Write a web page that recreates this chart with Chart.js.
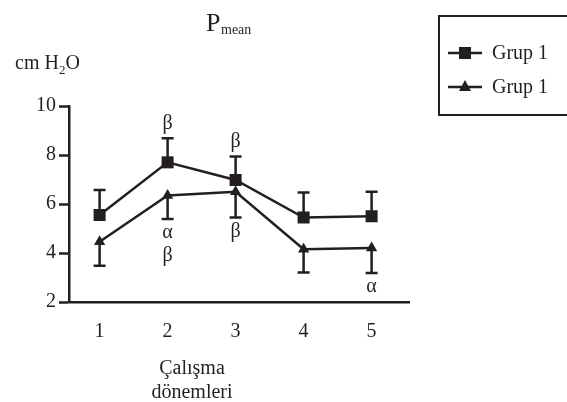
<!DOCTYPE html>
<html>
<head>
<meta charset="utf-8">
<script src="https://cdn.jsdelivr.net/npm/chart.js@4"></script>
<style>
  html, body { margin: 0; padding: 0; background: #fff; }
  #wrap { width: 567px; height: 402px; position: relative; }
</style>
</head>
<body>
<div id="wrap"><canvas id="chart" width="567" height="402"></canvas></div>
<script>
// ================= DATA =================
const periods = [1, 2, 3, 4, 5];
const yTicks = [2, 4, 6, 8, 10];
const seriesNames = ["Grup 1", "Grup 1"];

// squares, error bar drawn upward
const squareValues = [5.55, 7.7, 6.98, 5.45, 5.5];
const squareErr = [1.02, 0.98, 0.96, 1.02, 1.0];
const squareNotes = [[], ["β"], ["β"], [], []];

// triangles, error bar drawn downward
const triValues = [4.46, 6.35, 6.5, 4.15, 4.2];
const triErr = [0.98, 0.96, 1.05, 0.95, 1.02];
const triNotes = [[], ["α", "β"], ["β"], [], ["α"]];

const INK = "#231f20";
const FONT = "'Liberation Serif', 'Times New Roman', serif";

// ================= ERROR BARS + NOTES =================
const errorBarPlugin = {
    id: "errorBars",
    beforeDatasetsDraw(chart) {
        const ctx = chart.ctx;
        const x = chart.scales.x;
        const y = chart.scales.y;
        ctx.save();
        ctx.strokeStyle = INK;
        ctx.lineWidth = 2.5;
        const cap = 6;

        const drawBars = (values, errs, dir) => {
            values.forEach((v, i) => {
                const px = x.getPixelForValue(periods[i]);
                const py0 = y.getPixelForValue(v);
                const py1 = y.getPixelForValue(v + dir * errs[i]);
                ctx.beginPath();
                ctx.moveTo(px, py0);
                ctx.lineTo(px, py1);
                ctx.moveTo(px - cap, py1);
                ctx.lineTo(px + cap, py1);
                ctx.stroke();
            });
        };
        drawBars(squareValues, squareErr, 1);
        drawBars(triValues, triErr, -1);
        ctx.restore();
    },
    afterDatasetsDraw(chart) {
        const ctx = chart.ctx;
        const x = chart.scales.x;
        const y = chart.scales.y;
        ctx.save();
        ctx.fillStyle = INK;
        ctx.font = "20px " + FONT;
        ctx.textAlign = "center";
        ctx.textBaseline = "middle";

        squareNotes.forEach((notes, i) => {
            const px = x.getPixelForValue(periods[i]);
            const top = y.getPixelForValue(squareValues[i] + squareErr[i]);
            notes.forEach((t, k) => {
                ctx.fillText(t, px, top - 15 - k * 22);
            });
        });
        triNotes.forEach((notes, i) => {
            const px = x.getPixelForValue(periods[i]);
            const bottom = y.getPixelForValue(triValues[i] - triErr[i]);
            notes.forEach((t, k) => {
                ctx.fillText(t, px, bottom + 14 + k * 23);
            });
        });
        ctx.restore();
    },
    afterDraw(chart) {
        const ctx = chart.ctx;
        const area = chart.chartArea;
        ctx.save();
        ctx.fillStyle = INK;
        ctx.textBaseline = "alphabetic";

        // title P_mean
        ctx.textAlign = "left";
        ctx.font = "26px " + FONT;
        ctx.fillText("P", 206, 31);
        ctx.font = "14px " + FONT;
        ctx.fillText("mean", 221, 34);

        // unit cm H2O
        ctx.font = "20px " + FONT;
        ctx.fillText("cm H", 15, 69);
        let w = ctx.measureText("cm H").width;
        ctx.font = "13px " + FONT;
        ctx.fillText("2", 15 + w, 74);
        let w2 = ctx.measureText("2").width;
        ctx.font = "20px " + FONT;
        ctx.fillText("O", 15 + w + w2, 69);

        // x axis title
        ctx.textAlign = "center";
        ctx.font = "20px " + FONT;
        const cx = 192;
        ctx.fillText("Çalışma", cx, 374);
        ctx.fillText("dönemleri", cx, 398);

        // legend box
        ctx.strokeStyle = INK;
        ctx.lineWidth = 2;
        ctx.strokeRect(439, 16, 140, 99);

        const rows = [{ style: "rect", y: 53 }, { style: "triangle", y: 87 }];
        rows.forEach((r, k) => {
            ctx.lineWidth = 2.5;
            ctx.beginPath();
            ctx.moveTo(448, r.y);
            ctx.lineTo(482, r.y);
            ctx.stroke();
            if (r.style === "rect") {
                ctx.fillRect(459, r.y - 6, 12, 12);
            } else {
                ctx.beginPath();
                ctx.moveTo(465, r.y - 7);
                ctx.lineTo(471, r.y + 4);
                ctx.lineTo(459, r.y + 4);
                ctx.closePath();
                ctx.fill();
            }
            ctx.textAlign = "left";
            ctx.textBaseline = "middle";
            ctx.font = "20px " + FONT;
            ctx.fillText(seriesNames[k], 492, r.y + 1);
        });
        ctx.restore();
    }
};

// ================= CHART =================
const toPoints = vals => vals.map((v, i) => ({ x: periods[i], y: v }));

new Chart(document.getElementById("chart").getContext("2d"), {
    type: "line",
    data: {
        datasets: [
            {
                label: seriesNames[0],
                data: toPoints(squareValues),
                borderColor: INK,
                backgroundColor: INK,
                borderWidth: 2.5,
                pointStyle: "rect",
                pointRadius: 8.5,
                pointBorderWidth: 0,
                tension: 0
            },
            {
                label: seriesNames[1],
                data: toPoints(triValues),
                borderColor: INK,
                backgroundColor: INK,
                borderWidth: 2.5,
                pointStyle: "triangle",
                pointRadius: 6.5,
                pointBorderWidth: 0,
                tension: 0
            }
        ]
    },
    options: {
        responsive: false,
        animation: false,
        layout: { padding: { top: 106, right: 158, left: 0, bottom: 0 } },
        plugins: { legend: { display: false }, tooltip: { enabled: false } },
        scales: {
            x: {
                type: "linear",
                min: 0.55,
                max: 5.55,
                afterBuildTicks: s => { s.ticks = periods.map(v => ({ value: v })); },
                afterFit: s => { s.height = 100; },
                grid: { drawOnChartArea: false, drawTicks: false },
                border: { display: true, color: INK, width: 2.5 },
                ticks: { color: INK, padding: 18, font: { family: FONT, size: 20 } }
            },
            y: {
                min: 2,
                max: 10,
                afterBuildTicks: s => { s.ticks = yTicks.map(v => ({ value: v })); },
                afterFit: s => { s.width = 69; },
                grid: { drawOnChartArea: false, drawTicks: true, tickLength: 10, color: INK, tickWidth: 2.5 },
                border: { display: true, color: INK, width: 2.5 },
                ticks: { color: INK, padding: 3, font: { family: FONT, size: 20 } }
            }
        }
    },
    plugins: [errorBarPlugin]
});
</script>
</body>
</html>
